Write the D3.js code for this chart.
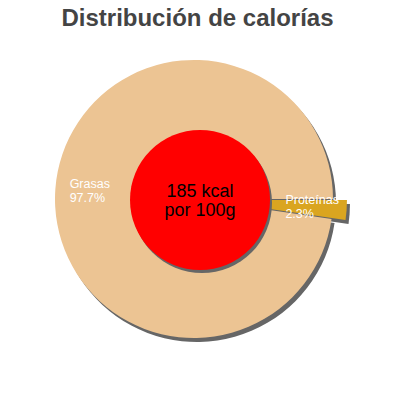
<!DOCTYPE html>
<html><head><meta charset="utf-8">
<script src="https://cdn.jsdelivr.net/npm/d3@7"></script>
<style>html,body{margin:0;padding:0;background:#fff}svg{display:block}</style>
</head><body>
<svg id="c" width="400" height="400"></svg>
<script>
const title = "Distribución de calorías";
const categories = ["Proteínas", "Grasas"];
const values = [2.3, 97.7];
const energyLines = ["185 kcal", "por 100g"];

const W = 400, H = 400;
const cx = 194, cy = 199, R = 139, holeR = 70, explode = 14;
const shadowDx = 3, shadowDy = 4;
const font = "'Liberation Sans', Arial, sans-serif";

const svg = d3.select("#c");
svg.append("text").attr("x", 197.5).attr("y", 26).attr("text-anchor", "middle")
  .attr("font-family", font).attr("font-weight", "bold").attr("font-size", 24)
  .attr("fill", "#444").text(title);

const color = d3.scaleOrdinal().domain(categories).range(["#DAA520", "#ECC493"]);
const pie = d3.pie().sort(null).value(d => d.v).startAngle(Math.PI / 2).endAngle(Math.PI / 2 + 2 * Math.PI);
const data = categories.map((c, i) => ({ c, v: values[i], pct: values[i] }));
const arcs = pie(data);
const arc = d3.arc().innerRadius(0).outerRadius(R);
const labelArc = d3.arc().innerRadius((R + holeR) / 2).outerRadius((R + holeR) / 2);

function offset(a, i) {
  if (i !== 0) return [0, 0];
  const m = (a.startAngle + a.endAngle) / 2;
  return [Math.sin(m) * explode, -Math.cos(m) * explode];
}

const g = svg.append("g").attr("transform", `translate(${cx},${cy})`);
// shadows
g.selectAll("path.sh").data(arcs).join("path").attr("class", "sh")
  .attr("d", arc).attr("fill", "#666")
  .attr("transform", (a, i) => { const o = offset(a, i); return `translate(${o[0] + shadowDx},${o[1] + shadowDy})`; });
// slices
g.selectAll("path.sl").data(arcs).join("path").attr("class", "sl")
  .attr("d", arc).attr("fill", a => color(a.data.c))
  .attr("transform", (a, i) => { const o = offset(a, i); return `translate(${o[0]},${o[1]})`; });

// center hole
const hx = 200 - cx, hy = 200 - cy;
g.append("circle").attr("cx", hx + 2).attr("cy", hy + 3).attr("r", holeR).attr("fill", "#666");
g.append("circle").attr("cx", hx).attr("cy", hy).attr("r", holeR).attr("fill", "#FF0000");
const ct = g.append("text").attr("text-anchor", "middle").attr("font-family", font)
  .attr("font-size", 18).attr("fill", "#000");
ct.append("tspan").attr("x", hx).attr("y", hy - 3).text(energyLines[0]);
ct.append("tspan").attr("x", hx).attr("y", hy + 16).text(energyLines[1]);

// labels
arcs.forEach((a, i) => {
  const o = offset(a, i);
  const p = labelArc.centroid(a);
  const lx = p[0] + o[0], ly = p[1] + o[1];
  const t = g.append("text").attr("font-family", font).attr("font-size", 12.5).attr("fill", "#fff");
  const t1 = t.append("tspan").attr("y", ly - 3.5).text(a.data.c);
  const t2 = t.append("tspan").attr("y", ly + 10.5).text(d3.format(".1f")(a.data.pct) + "%");
  const w = Math.max(t1.node().getComputedTextLength(), t2.node().getComputedTextLength());
  t1.attr("x", lx - w / 2); t2.attr("x", lx - w / 2);
});
</script>
</body></html>
